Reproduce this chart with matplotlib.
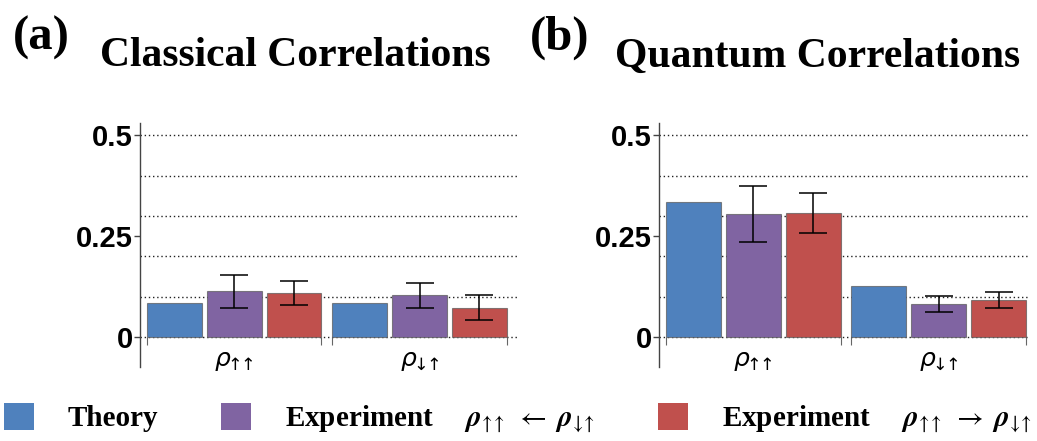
import matplotlib
matplotlib.use("Agg")
import matplotlib.pyplot as plt
import matplotlib.patches as mpatches
import numpy as np

# ---- data ----
groups = [r'$\rho_{\!\!\uparrow\!\!\!\uparrow}$', r'$\rho_{\!\!\downarrow\!\!\!\uparrow}$']
series_names = ["Theory",
                r"Experiment $\quad\;\boldsymbol{\rho}_{\!\uparrow\!\!\uparrow}\ \leftarrow\ \boldsymbol{\rho}_{\!\downarrow\!\!\uparrow}$",
                r"Experiment $\quad\;\boldsymbol{\rho}_{\!\uparrow\!\!\uparrow}\ \rightarrow\ \boldsymbol{\rho}_{\!\downarrow\!\!\uparrow}$"]
colors = ["#4F81BD", "#8064A2", "#C0504D"]

classical_theory = [0.083, 0.083]
classical_exp_left = [0.113, 0.103]
classical_exp_left_err = [0.040, 0.030]
classical_exp_right = [0.108, 0.073]
classical_exp_right_err = [0.030, 0.030]

quantum_theory = [0.334, 0.126]
quantum_exp_left = [0.305, 0.082]
quantum_exp_left_err = [0.070, 0.020]
quantum_exp_right = [0.307, 0.091]
quantum_exp_right_err = [0.050, 0.020]

yticks = [0, 0.25, 0.5]
yticklabels = ["0", "0.25", "0.5"]
gridvals = [0, 0.1, 0.2, 0.3, 0.4, 0.5]

titles = ["Classical Correlations", "Quantum Correlations"]
panel_labels = ["(a)", "(b)"]

plt.rcParams['mathtext.fontset'] = 'dejavusans'

W, H = 1037, 441
fig = plt.figure(figsize=(W / 100, H / 100), dpi=100)

def px_axes(l, r, t, b):
    return fig.add_axes([l / W, 1 - b / H, (r - l) / W, (b - t) / H])

axA = px_axes(140, 519, 123, 367)
axB = px_axes(659, 1030, 123, 367)

offs = [-0.323, 0.0, 0.323]
bw = 0.296

def draw(ax, theory, el, ele, er, ere, xlim):
    x = np.arange(len(groups))
    vals = [theory, el, er]
    errs = [None, ele, ere]
    for k in range(3):
        ax.bar(x + offs[k], vals[k], width=bw, color=colors[k],
               edgecolor=(0.35, 0.35, 0.35, 0.7), linewidth=0.8, zorder=3)
        if errs[k] is not None:
            ax.errorbar(x + offs[k], vals[k], yerr=errs[k], fmt='none',
                        ecolor='black', elinewidth=1.1, capsize=10,
                        capthick=1.1, zorder=4)
    ax.set_xlim(*xlim)
    ax.set_ylim(-0.0745, 0.5305)
    for g in gridvals:
        ax.axhline(g, color='#222222', linestyle=(0, (1, 2)), linewidth=1.0, zorder=1)
    for s in ['top', 'right']:
        ax.spines[s].set_visible(False)
    ax.spines['left'].set_color('#444444')
    ax.spines['left'].set_linewidth(1.0)
    ax.spines['bottom'].set_position(('data', 0))
    ax.spines['bottom'].set_visible(False)
    ax.set_yticks(yticks)
    ax.set_yticklabels(yticklabels, fontfamily='Liberation Sans',
                       fontweight='bold', fontsize=21)
    ax.tick_params(axis='y', direction='out', length=4, width=1,
                   color='#444444', pad=1)
    edges = []
    for i in x:
        edges += [i + offs[0] - bw / 2, i + offs[2] + bw / 2]
    ax.set_xticks(edges)
    ax.set_xticklabels([""] * len(edges))
    ax.tick_params(axis='x', which='major', direction='out', length=6,
                   width=0.8, color='#666666')
    ax.set_xticks(x, minor=True)
    ax.set_xticklabels(groups, minor=True, fontsize=18)
    ax.tick_params(axis='x', which='minor', length=0, pad=9)

draw(axA, classical_theory, classical_exp_left, classical_exp_left_err,
     classical_exp_right, classical_exp_right_err, (-0.507, 1.536))
draw(axB, quantum_theory, quantum_exp_left, quantum_exp_left_err,
     quantum_exp_right, quantum_exp_right_err, (-0.506, 1.49))

serif = 'Liberation Serif'
fig.text(13 / W, 1 - 50 / H, panel_labels[0], fontfamily=serif,
         fontweight='bold', fontsize=35, ha='left', va='baseline')
fig.text(100 / W, 1 - 66 / H, titles[0], fontfamily=serif,
         fontweight='bold', fontsize=30, ha='left', va='baseline')
fig.text(530 / W, 1 - 50 / H, panel_labels[1], fontfamily=serif,
         fontweight='bold', fontsize=35, ha='left', va='baseline')
fig.text(615 / W, 1 - 67 / H, titles[1], fontfamily=serif,
         fontweight='bold', fontsize=30, ha='left', va='baseline')

plt.rcParams['mathtext.fontset'] = 'stix'
handles = [mpatches.Patch(facecolor=c, edgecolor='none') for c in colors]
leg = fig.legend(handles, series_names, ncol=3, loc='center left',
                 bbox_to_anchor=(4 / W, 1 - 419 / H), frameon=False,
                 prop={'family': serif, 'weight': 'bold', 'size': 21},
                 handlelength=1.03, handleheight=1.03, handletextpad=1.16,
                 columnspacing=2.15, borderpad=0, borderaxespad=0)

fig.savefig("out.png", dpi=100)
